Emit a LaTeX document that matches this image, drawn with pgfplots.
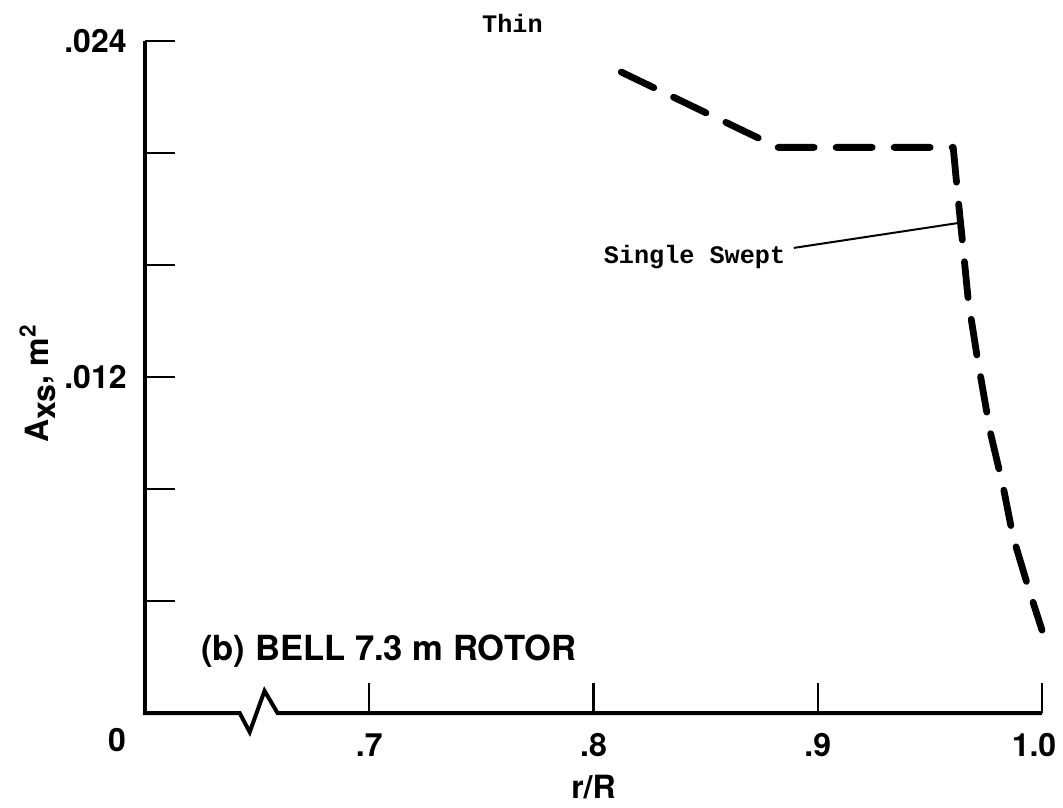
\documentclass[border=0pt]{standalone}
\usepackage{fontspec}
\setmainfont{TeX Gyre Heros}
\newfontfamily\tw{Liberation Mono}
\usepackage{pgfplots}
\pgfplotsset{compat=1.18}
\begin{document}
\begin{tikzpicture}
\useasboundingbox (-72.5pt,-47pt) rectangle (459pt,356.5pt);
\begin{axis}[
  at={(0,0)}, anchor=south west,
  scale only axis, width=448.5pt, height=336pt,
  xmin=0.6, xmax=1.0, ymin=0, ymax=0.024,
  scaled y ticks=false,
  axis x line=bottom, axis y line=left,
  x axis line style={draw=none},
  y axis line style={-, line width=2.4pt},
  tick align=inside,
  major tick length=15pt,
  every tick/.style={black, line width=1.2pt},
  xtick={0.7,0.8,0.9,1.0},
  xticklabels={.7,.8,.9,\hspace{-8pt}1.0},
  ytick={0.004,0.008,0.012,0.016,0.020,0.024},
  yticklabels={,,.012,,,.024},
  ticklabel style={font=\fontsize{16}{18}\selectfont\bfseries},
  xticklabel style={inner sep=0pt, yshift=-10pt},
  yticklabel style={inner sep=0pt, xshift=-9pt},
  xlabel={r/R},
  ylabel={A\raisebox{-0.4ex}{xs}, m\textsuperscript{2}},
  label style={font=\fontsize{16}{18}\selectfont\bfseries},
  xlabel style={at={(axis description cs:0.5,-0.11)}, anchor=center},
  ylabel style={at={(axis description cs:-0.12,0.49)}, anchor=center},
  clip=false,
]
  % bottom axis with the break mark
  \draw[line width=2pt, line join=miter] (axis cs:0.599,0) -- (axis cs:0.6422,0)
    -- (axis cs:0.6467,-0.00068) -- (axis cs:0.6533,0.00079)
    -- (axis cs:0.6591,0) -- (axis cs:1.0,0);

  % single swept tip
  \addplot[black, line width=3.4pt, line cap=round, line join=round,
    dash pattern=on 18pt off 11pt] coordinates {
    (0.8124, 0.02289)
    (0.8822, 0.02020)
    (0.9604, 0.02020)
    (0.9622, 0.01868)
    (0.9649, 0.01654)
    (0.9671, 0.01475)
    (0.9711, 0.01271)
    (0.9769, 0.01004)
    (0.9827, 0.00807)
    (0.9871, 0.00629)
    (0.9938, 0.00450)
    (1.0000, 0.00296)
  };

  % leader
  \addplot[black, line width=1pt] coordinates {(0.8893,0.01661) (0.9627,0.0175)};

  \node[anchor=base west, inner sep=0pt, font=\tw\bfseries\fontsize{12.6}{14}\selectfont]
    at (axis cs:0.8044,0.01607) {Single Swept};
  \node[anchor=base west, inner sep=0pt, font=\tw\bfseries\fontsize{12.6}{14}\selectfont]
    at (axis cs:0.7502,0.02429) {Thin};
  \node[anchor=base west, inner sep=0pt, font=\fontsize{17.3}{19}\selectfont\bfseries]
    at (axis cs:0.6249,0.00189) {(b) BELL 7.3 m ROTOR};
  \node[font=\fontsize{16}{18}\selectfont\bfseries, xshift=-14pt, yshift=-13.5pt]
    at (axis cs:0.6,0) {0};
\end{axis}
\end{tikzpicture}
\end{document}
